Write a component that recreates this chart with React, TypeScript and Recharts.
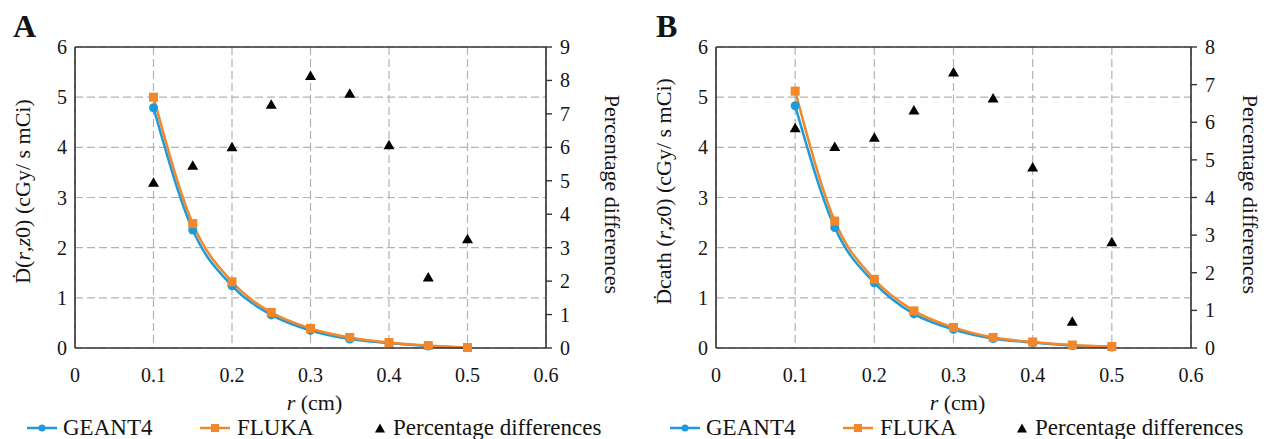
import React from 'react';
import {
  ComposedChart,
  Line,
  Scatter,
  XAxis,
  YAxis,
  CartesianGrid,
  ReferenceLine,
  Legend,
  Label,
} from 'recharts';

// radial distance r (cm)
const R_VALUES = [0.1, 0.15, 0.2, 0.25, 0.3, 0.35, 0.4, 0.45, 0.5];

// panel A: dose rate D(r,z0)
const GEANT4_A = [4.79, 2.35, 1.24, 0.66, 0.35, 0.18, 0.1, 0.04, 0.01];
const FLUKA_A = [5.0, 2.48, 1.32, 0.71, 0.39, 0.21, 0.11, 0.05, 0.01];
const DIFF_A = [4.94, 5.45, 6.0, 7.27, 8.13, 7.6, 6.06, 2.11, 3.25];

// panel B: dose rate with catheter
const GEANT4_B = [4.83, 2.4, 1.3, 0.68, 0.37, 0.19, 0.11, 0.05, 0.02];
const FLUKA_B = [5.12, 2.53, 1.37, 0.74, 0.41, 0.21, 0.12, 0.06, 0.03];
const DIFF_B = [5.84, 5.34, 5.59, 6.31, 7.32, 6.63, 4.8, 0.7, 2.81];

const X_TICKS = [0, 0.1, 0.2, 0.3, 0.4, 0.5, 0.6];
const LEFT_TICKS = [0, 1, 2, 3, 4, 5, 6];
const RIGHT_TICKS_A = [0, 1, 2, 3, 4, 5, 6, 7, 8, 9];
const RIGHT_TICKS_B = [0, 1, 2, 3, 4, 5, 6, 7, 8];

const BLUE = '#1b9bd8';
const ORANGE = '#f2872b';
const INK = '#141414';
const AXIS = '#333333';
const GRID = '#b3b3b3';
const FONT = "'Liberation Serif', serif";
const TXT = { fontFamily: FONT };

const buildRows = (g: number[], f: number[], d: number[]) =>
  R_VALUES.map((r, i) => ({ r, geant: g[i], fluka: f[i], diff: d[i] }));

const Triangle = (p: any) => {
  const { cx, cy } = p;
  if (cx == null || cy == null) return null;
  return (
    <polygon
      points={`${cx},${cy - 5.5} ${cx - 5.5},${cy + 4} ${cx + 5.5},${cy + 4}`}
      fill="#000"
    />
  );
};

const SquareDot = (p: any) => (
  <rect key={`sq-${p.index}`} x={p.cx - 4.5} y={p.cy - 4.5} width={9} height={9} fill={ORANGE} />
);

// tick renderers
const XTick = (p: any) => (
  <text x={p.x} y={p.y + 26} textAnchor="middle" fontSize={20} fill={INK} style={TXT}>
    {String(p.payload.value)}
  </text>
);
const LeftTick = (p: any) => (
  <text x={p.x} y={p.y + 7} textAnchor="end" fontSize={20} fill={INK} style={TXT}>
    {String(p.payload.value)}
  </text>
);
const RightTick = (p: any) => (
  <text x={p.x} y={p.y + 7} textAnchor="start" fontSize={20} fill={INK} style={TXT}>
    {String(p.payload.value)}
  </text>
);

const LegendContent = ({ pos }: { pos: number[] }) => (
  <div style={{ position: 'relative', height: 30, fontSize: 23, color: INK, fontFamily: FONT }}>
    <div style={{ position: 'absolute', left: pos[0], top: 0, height: 30, display: 'flex', alignItems: 'center' }}>
      <svg width={30} height={12}>
        <line x1={0} y1={6} x2={30} y2={6} stroke={BLUE} strokeWidth={2.5} />
        <circle cx={15} cy={6} r={3.5} fill={BLUE} />
      </svg>
      <span style={{ marginLeft: 6, whiteSpace: 'nowrap' }}>GEANT4</span>
    </div>
    <div style={{ position: 'absolute', left: pos[1], top: 0, height: 30, display: 'flex', alignItems: 'center' }}>
      <svg width={30} height={12}>
        <line x1={0} y1={6} x2={30} y2={6} stroke={ORANGE} strokeWidth={2.5} />
        <rect x={11} y={2} width={8} height={8} fill={ORANGE} />
      </svg>
      <span style={{ marginLeft: 7, whiteSpace: 'nowrap' }}>FLUKA</span>
    </div>
    <div style={{ position: 'absolute', left: pos[2] - 6, top: 0, height: 30, display: 'flex', alignItems: 'center' }}>
      <svg width={12} height={12}>
        <polygon points="6,1.5 1,10.5 11,10.5" fill="#000" />
      </svg>
      <span style={{ marginLeft: 7, whiteSpace: 'nowrap' }}>Percentage differences</span>
    </div>
  </div>
);

type PanelProps = {
  letter: string;
  cath: boolean;
  width: number;
  left: number;
  margin: { top: number; right: number; left: number; bottom: number };
  rows: ReturnType<typeof buildRows>;
  rightTicks: number[];
  letterX: number;
  rightTitleDx: number;
  legendPos: number[];
};

function Panel(props: PanelProps) {
  const { letter, cath, width, left, margin, rows, rightTicks, letterX, rightTitleDx, legendPos } = props;
  const rightMax = rightTicks[rightTicks.length - 1];
  return (
    <div style={{ position: 'absolute', left, top: 0 }}>
      <ComposedChart width={width} height={439} data={rows} margin={margin}>
        <CartesianGrid yAxisId="left" stroke={GRID} strokeDasharray="8 4" strokeWidth={1.2} />
        <XAxis
          dataKey="r"
          type="number"
          domain={[0, 0.6]}
          ticks={X_TICKS}
          height={30}
          tick={XTick}
          tickLine={false}
          axisLine={{ stroke: AXIS, strokeWidth: 1.6 }}
        >
          <Label
            content={(p: any) => {
              const vb = p.viewBox;
              return (
                <text x={vb.x + vb.width / 2 + 4} y={vb.y + 62} textAnchor="middle" fontSize={22} fill={INK} style={TXT}>
                  <tspan fontStyle="italic">r</tspan> (cm)
                </text>
              );
            }}
          />
        </XAxis>
        <YAxis
          yAxisId="left"
          domain={[0, 6]}
          ticks={LEFT_TICKS}
          width={35}
          tick={LeftTick}
          tickLine={false}
          axisLine={{ stroke: AXIS, strokeWidth: 1.6 }}
        >
          <Label
            content={(p: any) => {
              const vb = p.viewBox;
              const cx = vb.x - 10;
              const cy = vb.y + vb.height / 2 - 6;
              return (
                <g>
                  <text
                    x={cx}
                    y={cy}
                    transform={`rotate(-90, ${cx}, ${cy})`}
                    textAnchor="middle"
                    fontSize={22}
                    fill={INK}
                    style={TXT}
                  >
                    <tspan>{cath ? 'Ḋcath (' : 'Ḋ('}</tspan>
                    <tspan fontStyle="italic">r</tspan>
                    <tspan>,</tspan>
                    <tspan fontStyle="italic">z</tspan>
                    <tspan>0) (cGy/ s mCi)</tspan>
                  </text>
                  <text x={letterX} y={37} fontSize={32} fontWeight="bold" fill={INK} style={TXT}>
                    {letter}
                  </text>
                </g>
              );
            }}
          />
        </YAxis>
        <YAxis
          yAxisId="right"
          orientation="right"
          domain={[0, rightMax]}
          ticks={rightTicks}
          width={40}
          tick={RightTick}
          tickLine={{ stroke: AXIS, strokeWidth: 1.4 }}
          tickSize={6}
          tickMargin={8}
          axisLine={{ stroke: AXIS, strokeWidth: 1.6 }}
        >
          <Label
            content={(p: any) => {
              const vb = p.viewBox;
              const cx = vb.x + rightTitleDx;
              const cy = vb.y + vb.height / 2 - 3;
              return (
                <text
                  x={cx}
                  y={cy}
                  transform={`rotate(90, ${cx}, ${cy})`}
                  textAnchor="middle"
                  fontSize={22}
                  fill={INK}
                  style={TXT}
                >
                  Percentage differences
                </text>
              );
            }}
          />
        </YAxis>
        <ReferenceLine yAxisId="left" y={6} stroke={AXIS} strokeWidth={1.6} />
        <Line
          yAxisId="left"
          type="monotone"
          dataKey="geant"
          stroke={BLUE}
          strokeWidth={2.5}
          dot={{ r: 4.5, fill: BLUE, stroke: BLUE, strokeWidth: 0 }}
          activeDot={false}
          isAnimationActive={false}
        />
        <Line
          yAxisId="left"
          type="monotone"
          dataKey="fluka"
          stroke={ORANGE}
          strokeWidth={2.5}
          dot={SquareDot}
          activeDot={false}
          isAnimationActive={false}
        />
        <Scatter yAxisId="right" dataKey="diff" shape={Triangle} isAnimationActive={false} />
        <Legend
          layout="horizontal"
          verticalAlign="middle"
          align="center"
          wrapperStyle={{ top: 413, left: 0, width, height: 30 }}
          content={() => <LegendContent pos={legendPos} />}
        />
      </ComposedChart>
    </div>
  );
}

export default function App() {
  return (
    <div
      style={{
        position: 'absolute',
        left: 0,
        top: 0,
        width: 1264,
        height: 439,
        background: '#fff',
        fontFamily: FONT,
      }}
    >
      <Panel
        letter="A"
        cath={false}
        width={640}
        left={0}
        margin={{ top: 47, right: 54, left: 40, bottom: 61 }}
        rows={buildRows(GEANT4_A, FLUKA_A, DIFF_A)}
        rightTicks={RIGHT_TICKS_A}
        letterX={13}
        rightTitleDx={59}
        legendPos={[27, 200, 380]}
      />
      <Panel
        letter="B"
        cath={true}
        width={624}
        left={640}
        margin={{ top: 47, right: 33, left: 41, bottom: 61 }}
        rows={buildRows(GEANT4_B, FLUKA_B, DIFF_B)}
        rightTicks={RIGHT_TICKS_B}
        letterX={16}
        rightTitleDx={52}
        legendPos={[30, 203, 382]}
      />
    </div>
  );
}
